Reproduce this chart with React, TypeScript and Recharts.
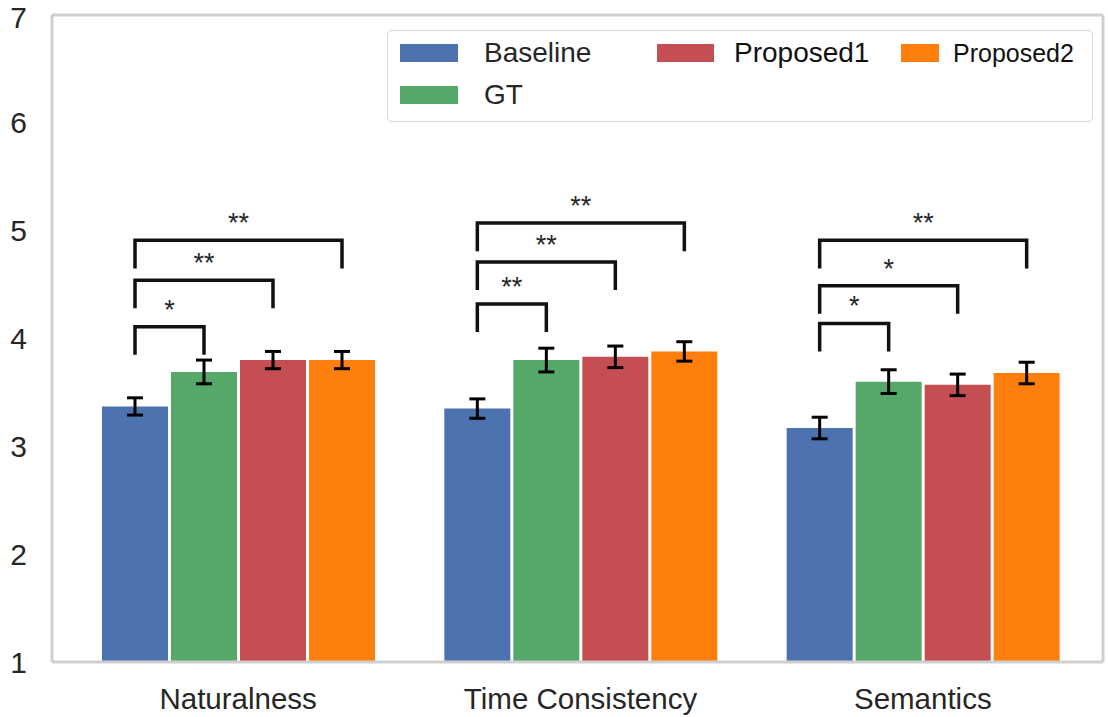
import { BarChart, Bar, XAxis, YAxis, ErrorBar, Legend, Rectangle } from "recharts";

const categories = ["Naturalness", "Time Consistency", "Semantics"];

const baseline = [3.37, 3.35, 3.17];
const gt = [3.69, 3.8, 3.6];
const proposed1 = [3.8, 3.83, 3.57];
const proposed2 = [3.8, 3.88, 3.68];

const baselineErr = [0.08, 0.09, 0.1];
const gtErr = [0.11, 0.11, 0.11];
const proposed1Err = [0.08, 0.1, 0.1];
const proposed2Err = [0.08, 0.09, 0.1];

// significance brackets: Baseline vs GT / Proposed1 / Proposed2
const bracketTops = [
  [4.11, 4.54, 4.91],
  [4.32, 4.71, 5.07],
  [4.14, 4.49, 4.91],
];
const bracketStars = [
  ["*", "**", "**"],
  ["**", "**", "**"],
  ["*", "*", "**"],
];

const yTicks = [1, 2, 3, 4, 5, 6, 7];

const BAR_SIZE = 66;
const BAR_GAP = 3;
const LEG = 0.26;
const FONT = "'Liberation Sans', Arial, Helvetica, sans-serif";
const FRAME = "#cfcfcf";

const COLORS = {
  baseline: "#4c72b0",
  gt: "#55a868",
  proposed1: "#c44e52",
  proposed2: "#ff7f0e",
};

const data = categories.map((name, i) => ({
  name,
  baseline: baseline[i],
  gt: gt[i],
  proposed1: proposed1[i],
  proposed2: proposed2[i],
  baselineErr: baselineErr[i],
  gtErr: gtErr[i],
  proposed1Err: proposed1Err[i],
  proposed2Err: proposed2Err[i],
}));

// baseline bar also draws the brackets, using its own geometry for the scale
function BaselineShape(props: any) {
  const { x, y, width, height, payload, fill } = props;
  const idx = categories.indexOf(payload.name);
  const bottom = y + height;
  const ppu = height / (payload.baseline - 1);
  const toY = (v: number) => bottom - (v - 1) * ppu;
  const x0 = x + width / 2;

  return (
    <g>
      <Rectangle x={x} y={y} width={width} height={height} fill={fill} />
      {bracketTops[idx].map((top, k) => {
        const x1 = x0 + (k + 1) * (width + BAR_GAP);
        const yt = toY(top);
        const yb = toY(top - LEG);
        return (
          <g key={k}>
            <path
              d={`M${x0},${yb}L${x0},${yt}L${x1},${yt}L${x1},${yb}`}
              fill="none"
              stroke="#111"
              strokeWidth={3.5}
            />
            <text
              x={(x0 + x1) / 2}
              y={yt - 8}
              textAnchor="middle"
              fontSize={27}
              fill="#262626"
              fontFamily={FONT}
            >
              {bracketStars[idx][k]}
            </text>
          </g>
        );
      })}
    </g>
  );
}

const legendPos: Record<string, any> = {
  Baseline: { left: 12, top: 13, sw: 58, gap: 26, fs: 28, color: "#262626" },
  GT: { left: 12, top: 55, sw: 58, gap: 26, fs: 28, color: "#262626" },
  Proposed1: { left: 269, top: 13, sw: 57, gap: 20, fs: 28, color: "#111" },
  Proposed2: { left: 513, top: 13, sw: 38, gap: 14, fs: 25, color: "#111" },
};

function LegendBox({ payload }: any) {
  return (
    <div
      style={{
        position: "relative",
        width: 706,
        height: 92,
        border: "1.5px solid #d6d6d6",
        borderRadius: 5,
        background: "#fff",
        fontFamily: FONT,
        boxSizing: "border-box",
      }}
    >
      {(payload || []).map((entry: any) => {
        const p = legendPos[entry.value];
        if (!p) return null;
        return (
          <div
            key={entry.value}
            style={{
              position: "absolute",
              left: p.left,
              top: p.top,
              height: 18,
              display: "flex",
              alignItems: "center",
              whiteSpace: "nowrap",
            }}
          >
            <span
              style={{
                display: "inline-block",
                width: p.sw,
                height: 18,
                background: entry.color,
              }}
            />
            <span
              style={{
                marginLeft: p.gap,
                fontSize: p.fs,
                lineHeight: 1,
                color: p.color,
              }}
            >
              {entry.value}
            </span>
          </div>
        );
      })}
    </div>
  );
}

export default function App() {
  return (
    <div style={{ position: "absolute", left: 0, top: 0, background: "#fff" }}>
      <BarChart
        width={1108}
        height={717}
        data={data}
        margin={{ top: 14, right: 4, bottom: 0, left: 0 }}
        barSize={BAR_SIZE}
        barGap={BAR_GAP}
      >
        <XAxis
          dataKey="name"
          interval={0}
          tickLine={false}
          tickSize={0}
          tickMargin={26}
          height={55}
          padding={{ left: 15, right: 9 }}
          axisLine={{ stroke: FRAME, strokeWidth: 3 }}
          tick={{ fontSize: 29.5, fill: "#262626", fontFamily: FONT }}
        />
        <XAxis
          xAxisId="top"
          orientation="top"
          dataKey="name"
          height={1}
          tick={false}
          tickLine={false}
          axisLine={{ stroke: FRAME, strokeWidth: 3 }}
        />
        <YAxis
          domain={[1, 7]}
          ticks={yTicks}
          width={52}
          tickLine={false}
          tickSize={0}
          tickMargin={25}
          axisLine={{ stroke: FRAME, strokeWidth: 3 }}
          tick={{ fontSize: 30, fill: "#262626", fontFamily: FONT }}
        />
        <YAxis
          yAxisId="right"
          orientation="right"
          domain={[1, 7]}
          width={1}
          tick={false}
          tickLine={false}
          axisLine={{ stroke: FRAME, strokeWidth: 3 }}
        />
        <Legend
          layout="horizontal"
          verticalAlign="middle"
          align="center"
          content={<LegendBox />}
          wrapperStyle={{ position: "absolute", left: 387, top: 30, width: 706, height: 92 }}
        />
        <Bar
          dataKey="baseline"
          name="Baseline"
          fill={COLORS.baseline}
          isAnimationActive={false}
          shape={<BaselineShape />}
        >
          <ErrorBar dataKey="baselineErr" width={8} strokeWidth={3} stroke="#000" />
        </Bar>
        <Bar dataKey="gt" name="GT" fill={COLORS.gt} isAnimationActive={false}>
          <ErrorBar dataKey="gtErr" width={8} strokeWidth={3} stroke="#000" />
        </Bar>
        <Bar dataKey="proposed1" name="Proposed1" fill={COLORS.proposed1} isAnimationActive={false}>
          <ErrorBar dataKey="proposed1Err" width={8} strokeWidth={3} stroke="#000" />
        </Bar>
        <Bar dataKey="proposed2" name="Proposed2" fill={COLORS.proposed2} isAnimationActive={false}>
          <ErrorBar dataKey="proposed2Err" width={8} strokeWidth={3} stroke="#000" />
        </Bar>
      </BarChart>
    </div>
  );
}
